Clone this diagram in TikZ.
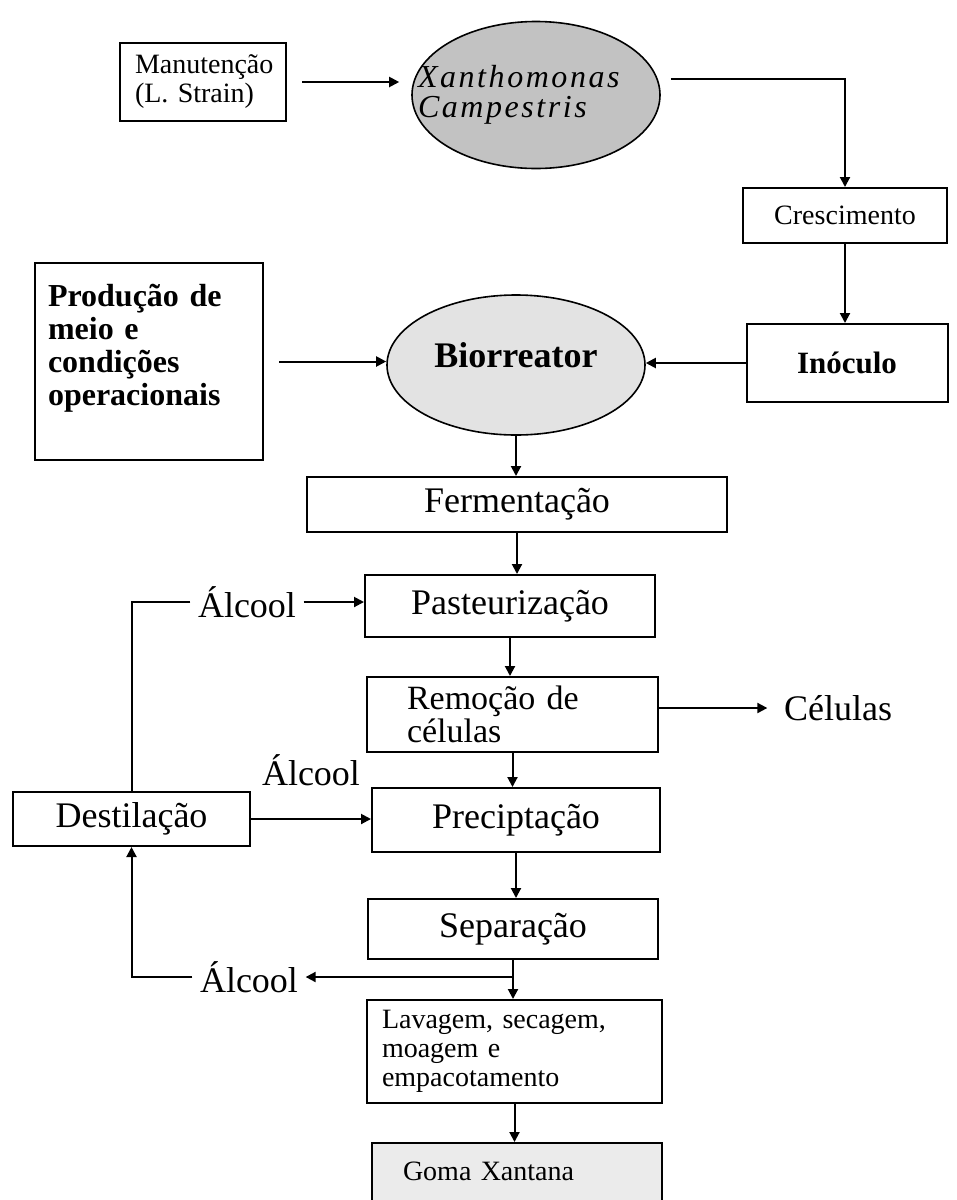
\documentclass[tikz,border=0pt]{standalone}
\usepackage{fontspec}
\setmainfont{Liberation Serif}
\usepackage{tikz}
\usetikzlibrary{
    shapes.geometric,
    arrows.meta
}
\definecolor{cinzaescuro}{gray}{0.76}
\definecolor{cinzaclaro}{gray}{0.89}
\definecolor{cinzagoma}{gray}{0.92}
\tikzset{
    >={Triangle[length=5pt,width=5pt]},
    caixa/.style={
        draw,
        line width=1pt,
        inner sep=0pt,
        font=\fontsize{18}{21}\selectfont
    },
    elipse/.style={
        ellipse,
        draw,
        line width=0.8pt,
        inner sep=0pt
    },
    rotulo/.style={
        font=\fontsize{18}{21}\selectfont
    },
    pequeno/.style={font=\fontsize{14}{14.5}\selectfont},
    negrito/.style={font=\fontsize{15.5}{16.5}\selectfont\bfseries}
}

\begin{document}
\begin{tikzpicture}[
    x=0.5pt,
    y=-0.5pt,
    line width=1pt
]
    \useasboundingbox (0,0) rectangle (957,1200);
    \clip (0,0) rectangle (957,1200);

    % Caixas
    \node[caixa, pequeno, align=left, text width=68pt, inner xsep=7.5pt, minimum height=39pt] (man) at (203,82) {Manutenção\\(L. Strain)};
    \node[elipse, fill=cinzaescuro, minimum width=124pt, minimum height=73.5pt, align=left,
          text width=118pt, inner xsep=-16pt,
          font=\fontsize{16}{15}\selectfont\itshape\addfontfeatures{LetterSpace=8}] (xan) at (536,95) {Xanthomonas\\Campestris};
    \node[caixa, pequeno, minimum width=102pt, minimum height=27.5pt] (cre) at (845,215.5) {Crescimento};
    \node[caixa, negrito, minimum width=100.5pt, minimum height=39pt] (ino) at (847,363) {Inóculo};
    \node[caixa, negrito, align=left, text width=101pt, inner xsep=6.5pt, minimum height=98.5pt,
          text height=11pt, text depth=66pt,
          font=\fontsize{16}{16.5}\selectfont\bfseries] (prod) at (149,361.5) {Produção de\\meio e\\condições\\operacionais};
    \node[elipse, fill=cinzaclaro, minimum width=129pt, minimum height=70pt, text depth=10pt,
          font=\fontsize{18}{20}\selectfont\bfseries] (bio) at (516,365) {Biorreator};
    \node[caixa, minimum width=210pt, minimum height=27.5pt] (fer) at (517,504.5) {Fermentação};
    \node[caixa, minimum width=145pt, minimum height=31pt] (pas) at (510,606) {Pasteurização};
    \node[caixa, align=left, text width=105.5pt, inner xsep=20pt, minimum height=37.5pt,
          font=\fontsize{17}{16.5}\selectfont] (rem) at (512.5,714.5) {Remoção de\\células};
    \node[caixa, minimum width=144pt, minimum height=32pt] (pre) at (516,820) {Preciptação};
    \node[caixa, minimum width=118.5pt, minimum height=27pt] (des) at (131.5,819) {Destilação};
    \node[caixa, minimum width=145pt, minimum height=30pt] (sep) at (513,929) {Separação};
    \node[caixa, pequeno, align=left, text width=132.5pt, inner xsep=7.5pt, minimum height=51.5pt] (lav) at (514.5,1051.5) {Lavagem, secagem,\\moagem e\\empacotamento};
    \node[caixa, pequeno, fill=cinzagoma, align=left, text width=114pt, inner xsep=15.5pt, minimum height=36pt, text depth=8pt] (goma) at (517,1179) {Goma Xantana};

    % Rótulos
    \node[rotulo] (alc1) at (247,602) {Álcool};
    \node[rotulo] (cel) at (838,708) {Células};
    \node[rotulo] (alc3) at (249,977) {Álcool};

    % Ligações
    \draw[->, shorten <=7.5pt, shorten >=6pt] (man.east) -- (man.east -| xan.west);
    \draw[->, shorten <=5pt] ([yshift=8pt]xan.east) -| (cre.north);
    \draw[->] (cre.south) -- (cre.south |- ino.north);
    \draw[->] (ino.west) -- (ino.west -| bio.east);
    \draw[->, shorten <=7.5pt] (prod.east) -- (prod.east -| bio.west);
    \draw[->] (bio.south) -- (bio.south |- fer.north);
    \draw[->] (fer.south) -- (fer.south |- pas.north);
    \draw[->] (alc1.east) -- (alc1.east -| pas.west);
    \draw (alc1.west) -| (des.north);
    \draw[->] (pas.south) -- (pas.south |- rem.north);
    \draw[->, shorten >=4.5pt] (rem.east |- cel) -- (cel.west);
    \draw[->] (rem.south) -- (rem.south |- pre.north);
    \draw[->] (des.east) -- node[rotulo, yshift=24.5pt] (alc2) {Álcool} (des.east -| pre.west);
    \draw[->] (pre.south) -- (pre.south |- sep.north);
    \draw[->] (sep.south) -- (sep.south |- lav.north);
    \draw[->] (sep.south |- alc3) -- (alc3.east);
    \draw[->] (alc3.west) -| (des.south);
    \draw[->] (lav.south) -- (lav.south |- goma.north);
\end{tikzpicture}
\end{document}
